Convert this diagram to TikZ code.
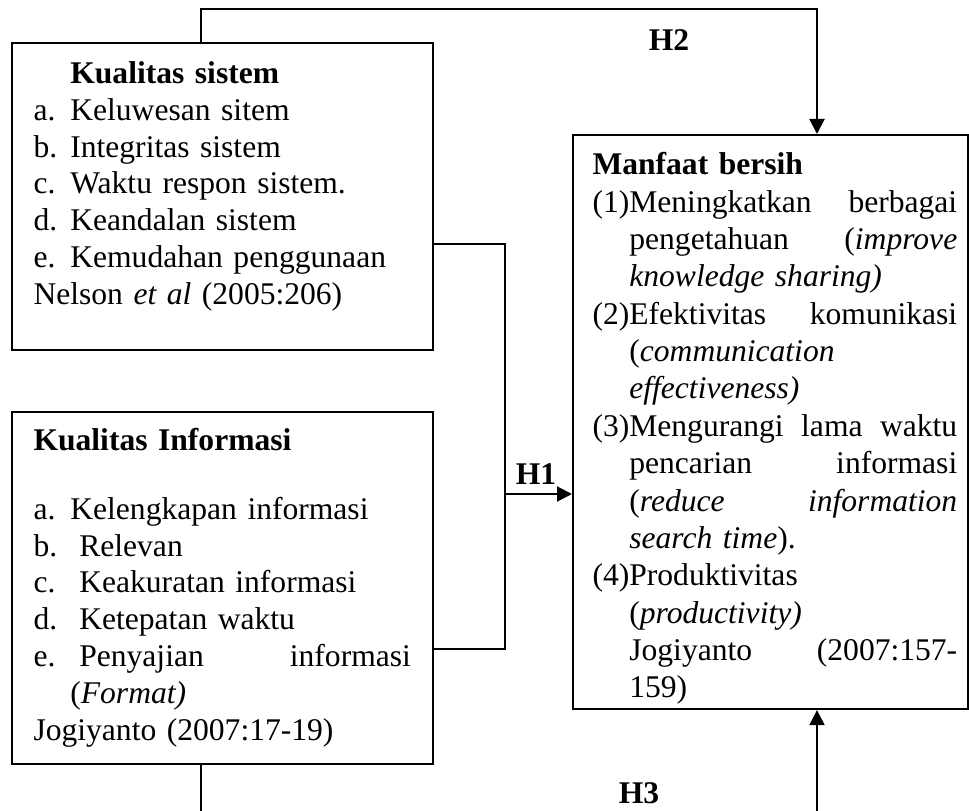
\documentclass[tikz,border=0pt]{standalone}
\usepackage{fontspec}
\setmainfont{Liberation Serif}
\usetikzlibrary{arrows.meta}
\newcommand{\lbl}[1]{\makebox[14pt][l]{#1}}
\newcommand{\jst}[2][124.6pt]{\hbox to #1{#2}}
\begin{document}
\begin{tikzpicture}[x=0.38pt, y=-0.38pt,
	kotak/.style={draw, line width=0.8pt, inner sep=0pt, anchor=north west},
	isi/.style={anchor=north west, inner sep=0pt, align=left, font=\fontsize{12}{14}\selectfont},
	garis/.style={line width=0.8pt},
	panah/.style={garis, -{Triangle[length=5.7pt,width=5.7pt]}},
	hlab/.style={font=\fontsize{12}{14}\selectfont\bfseries}]
	\useasboundingbox (0,0) rectangle (969,811);
	\clip (0,0) rectangle (969,811);
	
	% kotak variabel
	\node[kotak, minimum width=421*0.38pt, minimum height=307*0.38pt] (sis) at (11,42) {};
	\node[kotak, minimum width=421*0.38pt, minimum height=352*0.38pt] (inf) at (11,411) {};
	\node[kotak, minimum width=395*0.38pt, minimum height=574*0.38pt] (man) at (572,134) {};
	
	% isi kotak
	\node[isi, text width=150pt] (sisT) at (33,61) {%
		\hspace*{14pt}\textbf{Kualitas sistem}\\
		\lbl{a.}Keluwesan sitem\\
		\lbl{b.}Integritas sistem\\
		\lbl{c.}Waktu respon sistem.\\
		\lbl{d.}Keandalan sistem\\
		\lbl{e.}Kemudahan penggunaan\\
		Nelson \emph{et al} (2005:206)};
	\node[isi, text width=150pt] (infT) at (33,428) {%
		\textbf{Kualitas Informasi}\\[12pt]
		\lbl{a.}Kelengkapan informasi\\
		\lbl{b.}\hspace{3.4pt}Relevan\\
		\lbl{c.}\hspace{3.4pt}Keakuratan informasi\\
		\lbl{d.}\hspace{3.4pt}Ketepatan waktu\\
		\lbl{e.}\hspace{3.4pt}\jst[126pt]{Penyajian\hfill informasi}\\
		\hspace*{14pt}(\emph{Format)}\\
		Jogiyanto (2007:17-19)};
	\node[isi, text width=140pt, font=\fontsize{12}{14.2}\selectfont] (manT) at (592,152) {%
		\textbf{Manfaat bersih}\\
		(1)\jst{Meningkatkan\hfill berbagai}\\
		\hspace*{14pt}\jst{pengetahuan\hfill (\emph{improve}}\\
		\hspace*{14pt}\emph{knowledge sharing)}\\
		(2)\jst{Efektivitas\hfill komunikasi}\\
		\hspace*{14pt}(\emph{communication}\\
		\hspace*{14pt}\emph{effectiveness)}\\
		(3)\jst{Mengurangi\hfill lama\hfill waktu}\\
		\hspace*{14pt}\jst{pencarian\hfill informasi}\\
		\hspace*{14pt}\jst{(\emph{reduce}\hfill\emph{information}}\\
		\hspace*{14pt}\emph{search time}).\\
		(4)Produktivitas\\
		\hspace*{14pt}(\emph{productivity)}\\
		\hspace*{14pt}\jst{Jogiyanto\hfill (2007:157-}\\
		\hspace*{14pt}159)};
	
	% titik bantu
	\coordinate (kx) at (201,0);
	\coordinate (ax) at (817,0);
	\coordinate (h1) at (505,494);
	
	% H2
	\draw[panah] (sis.north -| kx) -- ++(0,-33) -| (man.north -| ax);
	\node[hlab] (h2lab) at (669,40) {H2};
	% H1
	\draw[garis] (sis.east |- 0,244) -| (h1) |- (inf.east |- 0,649);
	\draw[panah] (h1) -- (man.west |- h1);
	\node[hlab] (h1lab) at (536,474) {H1};
	% H3
	\draw[panah] (inf.south -| kx) -- ++(0,60) -| (man.south -| ax);
	\node[hlab] (h3lab) at (639,793) {H3};
\end{tikzpicture}
\end{document}
